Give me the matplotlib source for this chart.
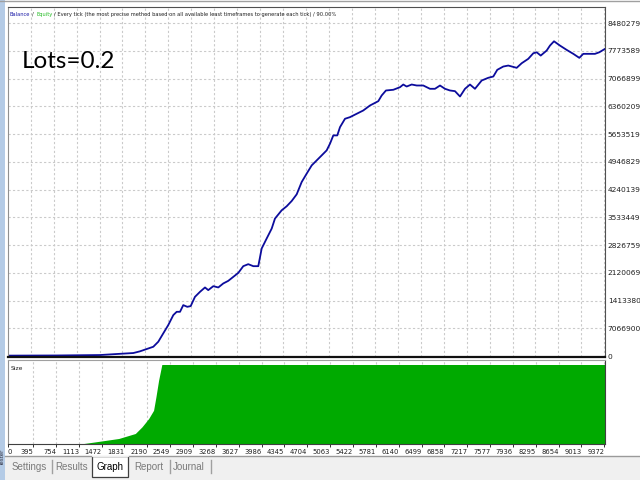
import matplotlib
matplotlib.use("Agg")
import matplotlib.pyplot as plt
from matplotlib import font_manager
from matplotlib.patches import Rectangle
from matplotlib.lines import Line2D

# ---- data ----
x_ticks = [0, 395, 754, 1113, 1472, 1831, 2190, 2549, 2909, 3268, 3627, 3986, 4345,
           4704, 5063, 5422, 5781, 6140, 6499, 6858, 7217, 7577, 7936, 8295, 8654,
           9013, 9372]
y_ticks = [0, 706690, 1413380, 2120069, 2826759, 3533449, 4240139, 4946829,
           5653519, 6360209, 7066899, 7773589, 8480279]
y_tick_labels = ["0", "7066900", "1413380", "2120069", "2826759", "3533449", "4240139",
                 "4946829", "5653519", "6360209", "7066899", "7773589", "8480279"]

eq_x = [40, 800, 1480, 1741, 2001, 2105, 2210, 2314, 2392, 2470, 2548, 2627, 2680,
        2732, 2783, 2846, 2899, 2966, 3045, 3123, 3174, 3253, 3331, 3409, 3487, 3566,
        3644, 3722, 3800, 3879, 3957, 4010, 4088, 4167, 4218, 4323, 4401, 4480, 4558,
        4636, 4714, 4793, 4871, 4949, 5027, 5079, 5131, 5193, 5236, 5314, 5392, 5497,
        5600, 5705, 5835, 5888, 5955, 6070, 6175, 6226, 6279, 6358, 6436, 6539, 6644,
        6722, 6801, 6879, 6957, 7035, 7114, 7192, 7270, 7348, 7453, 7556, 7635, 7697,
        7791, 7869, 8001, 8079, 8182, 8261, 8314, 8377, 8470, 8522, 8585, 8678, 8783,
        8887, 8981, 9043, 9148, 9226, 9294, 9383]
eq_y = [10000, 14000, 25000, 51000, 76000, 119000, 178000, 236000, 364000, 577000,
        788000, 1042000, 1126000, 1126000, 1296000, 1253000, 1271000, 1507000, 1635000,
        1746000, 1678000, 1779000, 1746000, 1848000, 1914000, 2016000, 2117000, 2288000,
        2339000, 2288000, 2288000, 2738000, 2992000, 3246000, 3500000, 3711000, 3813000,
        3948000, 4118000, 4431000, 4644000, 4855000, 4982000, 5109000, 5237000, 5407000,
        5618000, 5618000, 5829000, 6042000, 6083000, 6169000, 6253000, 6380000, 6490000,
        6635000, 6762000, 6780000, 6846000, 6914000, 6863000, 6914000, 6889000, 6889000,
        6805000, 6805000, 6889000, 6805000, 6762000, 6745000, 6609000, 6805000, 6914000,
        6805000, 7016000, 7085000, 7118000, 7288000, 7372000, 7397000, 7339000, 7456000,
        7568000, 7710000, 7735000, 7651000, 7779000, 7906000, 8015000, 7906000, 7796000,
        7695000, 7593000, 7695000, 7695000, 7695000, 7735000, 7822000]

size_x = [1193, 1480, 1741, 2001, 2105, 2210, 2288, 2325, 2367, 2418, 9383]
size_y = [0, 0.0066, 0.0127, 0.0253, 0.042, 0.063, 0.084, 0.118, 0.16, 0.2, 0.2]

tabs = ["Settings", "Results", "Graph", "Report", "Journal"]
tab_centers = [29, 72, 110, 149, 189]

# ---- fonts ----
names = {f.name for f in font_manager.fontManager.ttflist}
if "Liberation Sans Narrow" in names:
    small_font = "Liberation Sans Narrow"
    ytick_fs, xtick_fs, title_fs = 7, 6.3, 5.0
else:
    small_font = "DejaVu Sans"
    ytick_fs, xtick_fs, title_fs = 5.4, 4.9, 3.7

W, H = 640, 480
fig = plt.figure(figsize=(6.4, 4.8), dpi=100)
fig.patch.set_facecolor("white")

def fx(px):
    return px / W

def fy(py):
    return 1 - py / H

grid_kw = dict(color="#cacaca", linestyle=(0, (2, 2)), linewidth=0.8)

# main balance panel
ax = fig.add_axes([fx(8), fy(357), fx(597), 350 / H])
ax.plot(eq_x, eq_y, color="#0c0c9c", linewidth=1.3, solid_joinstyle="round")
ax.set_xlim(40, 9383)
ax.set_ylim(-25000, 8888000)
ax.set_xticks(x_ticks[1:])
ax.set_yticks(y_ticks)
ax.yaxis.tick_right()
ax.set_yticklabels(y_tick_labels, fontsize=ytick_fs, family=small_font, color="#202020")
ax.tick_params(axis="y", length=0, pad=2)
ax.tick_params(axis="x", length=0, labelbottom=False)
for v in x_ticks[1:]:
    ax.axvline(v, **grid_kw, zorder=0)
for v in y_ticks[1:]:
    ax.axhline(v, **grid_kw, zorder=0)
ax.spines["top"].set_color("#505050")
ax.spines["right"].set_color("#505050")
ax.spines["left"].set_color("#909090")
ax.spines["bottom"].set_color("#101010")
ax.spines["bottom"].set_linewidth(1.6)

# size panel
ax2 = fig.add_axes([fx(8), fy(443.5), fx(597), 83.5 / H])
ax2.fill_between(size_x, size_y, 0, color="#00aa00", linewidth=0)
ax2.set_xlim(40, 9383)
ax2.set_ylim(0, 0.2 * 83.5 / 79)
ax2.set_yticks([])
ax2.set_xticks(x_ticks)
ax2.set_xticklabels([str(v) for v in x_ticks], fontsize=xtick_fs, family=small_font,
                    color="#202020")
for i, lab in enumerate(ax2.get_xticklabels()):
    lab.set_horizontalalignment("left" if i == 0 else "right")
ax2.tick_params(axis="x", length=2.5, width=0.7, pad=1.5, color="#303030")
for v in x_ticks[1:]:
    ax2.axvline(v, **grid_kw, zorder=0)
ax2.spines["top"].set_color("#a0a0a0")
ax2.spines["left"].set_color("#909090")
ax2.spines["right"].set_color("#404040")
ax2.spines["bottom"].set_color("#404040")
ax2.text(0.004, 0.93, "Size", transform=ax2.transAxes, fontsize=title_fs + 0.6,
         family=small_font, va="top", ha="left", color="#202020")

# big annotation
fig.text(fx(22), fy(62), "Lots=0.2", fontsize=17.5, family="Lato", color="black",
         va="center", ha="left")

# title line built from coloured pieces
r = fig.canvas.get_renderer()
pieces = [("Balance", "#1c1ca8"), ("/", "#202020"), ("Equity", "#22bb22"),
          ("/ Every tick (the most precise method based on all available least "
           "timeframes to generate each tick) / 90.00%", "#202020")]
xp = 10
gap = 2.6 if small_font != "DejaVu Sans" else 2.0
for s, c in pieces:
    t = fig.text(fx(xp), fy(14.5), s, color=c, fontsize=title_fs, family=small_font,
                 va="center", ha="left")
    xp += t.get_window_extent(renderer=r).width + gap

# window chrome: left strip, top border, tab bar
fig.patches.append(Rectangle((0, 0), fx(5), 1, transform=fig.transFigure,
                             facecolor="#b4cbe6", edgecolor="none"))
fig.text(fx(2.6), fy(458), "Tester", rotation=90, fontsize=4, color="#303040",
         ha="center", va="center", family="DejaVu Sans")
fig.lines.append(Line2D([0, 1], [fy(0.5), fy(0.5)], transform=fig.transFigure,
                        color="#a0a0a0", linewidth=1))
fig.patches.append(Rectangle((fx(5), 0), 1, fy(456), transform=fig.transFigure,
                             facecolor="#f0f0f0", edgecolor="none"))
fig.lines.append(Line2D([fx(5), 1], [fy(456), fy(456)], transform=fig.transFigure,
                        color="#9a9a9a", linewidth=1))
fig.patches.append(Rectangle((fx(92), fy(477)), fx(36), (477 - 455.5) / H,
                             transform=fig.transFigure, facecolor="white",
                             edgecolor="#404040", linewidth=0.9))
fig.lines.append(Line2D([fx(92.5), fx(127.5)], [fy(456), fy(456)], transform=fig.transFigure,
                        color="white", linewidth=1.2))
for sx in [52, 169.5, 211]:
    fig.lines.append(Line2D([fx(sx), fx(sx)], [fy(460), fy(473)], transform=fig.transFigure,
                            color="#a0a0a0", linewidth=1))
for name, cx in zip(tabs, tab_centers):
    fig.text(fx(cx), fy(466.5), name, fontsize=7, family="Liberation Sans",
             color="black" if name == "Graph" else "#7a7a7a", ha="center", va="center")

fig.savefig("out.png", dpi=100, facecolor=fig.get_facecolor())
